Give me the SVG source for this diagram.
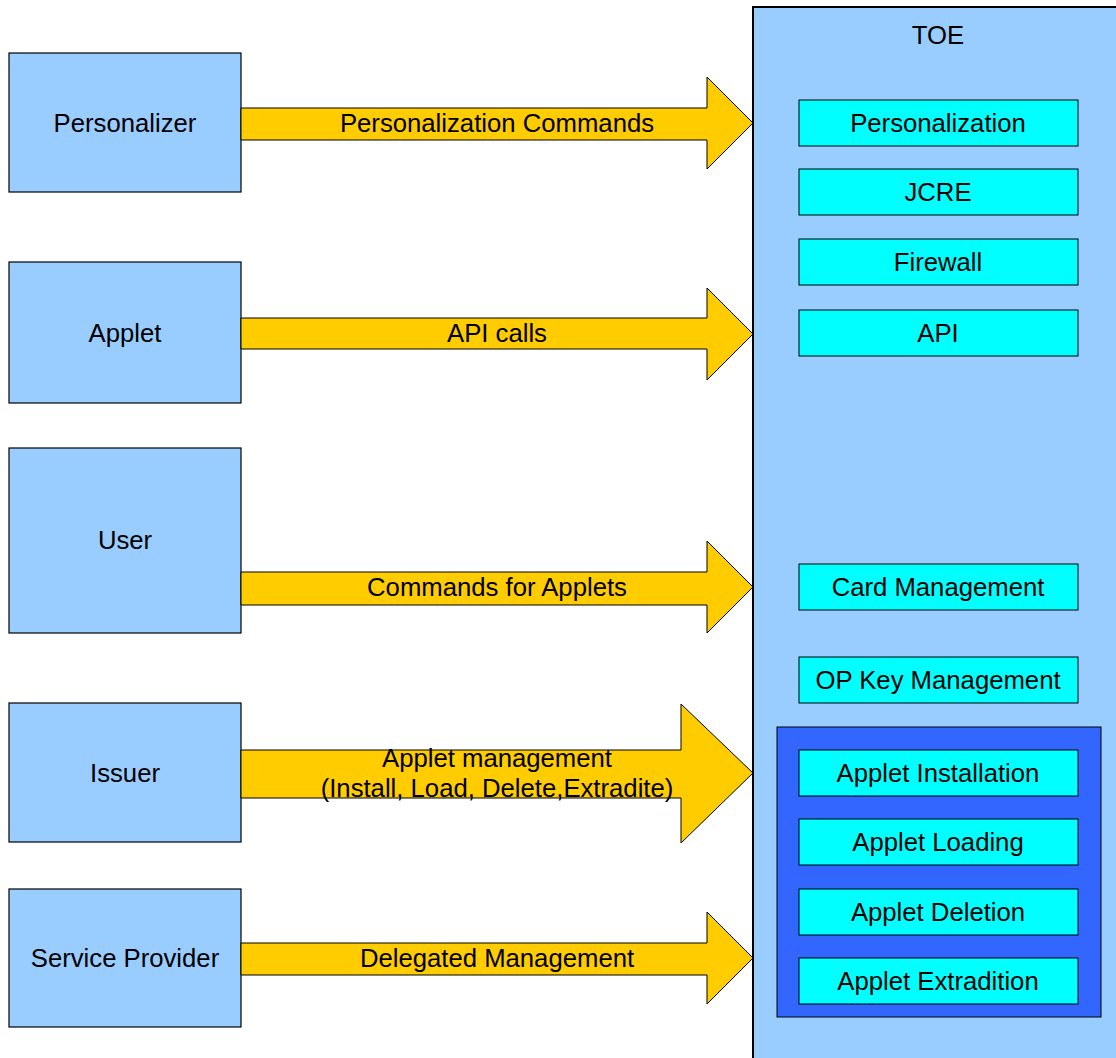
<svg xmlns="http://www.w3.org/2000/svg" width="1116" height="1058" viewBox="0 0 1116 1058">
<style>
text{font-family:"Liberation Sans",Arial,sans-serif;font-size:25.7px;fill:#000;text-anchor:middle;dominant-baseline:central}
.actor{fill:#99ccff;stroke:#000;stroke-width:1.2}
.inner{fill:#00ffff;stroke:#000;stroke-width:1}
.arrow{fill:#ffcc00;stroke:#000;stroke-width:1}
</style>
<rect width="1116" height="1058" fill="#fff"/>
<g id="toe">
<rect x="753" y="7" width="380" height="1070" fill="#99ccff" stroke="#000" stroke-width="2"/>
<text x="938" y="35">TOE</text>
</g>
<g id="applet-mgmt-group">
<rect x="777" y="727" width="324" height="290" fill="#3366ff" stroke="#000" stroke-width="1"/>
</g>
<g id="personalizer"><rect class="actor" x="9" y="53" width="232" height="139"/><text x="125" y="123">Personalizer</text></g>
<g id="applet"><rect class="actor" x="9" y="262" width="232" height="141"/><text x="125" y="333">Applet</text></g>
<g id="user"><rect class="actor" x="9" y="448" width="232" height="185"/><text x="125" y="540">User</text></g>
<g id="issuer"><rect class="actor" x="9" y="703" width="232" height="139"/><text x="125" y="773">Issuer</text></g>
<g id="service-provider"><rect class="actor" x="9" y="889" width="232" height="138"/><text x="125" y="958">Service Provider</text></g>
<g id="personalization"><rect class="inner" x="799" y="100" width="279" height="46"/><text x="938" y="123">Personalization</text></g>
<g id="jcre"><rect class="inner" x="799" y="169" width="279" height="46"/><text x="938" y="192">JCRE</text></g>
<g id="firewall"><rect class="inner" x="799" y="239" width="279" height="46"/><text x="938" y="262">Firewall</text></g>
<g id="api"><rect class="inner" x="799" y="310" width="279" height="46"/><text x="938" y="333">API</text></g>
<g id="card-management"><rect class="inner" x="799" y="564" width="279" height="46"/><text x="938" y="587">Card Management</text></g>
<g id="op-key-management"><rect class="inner" x="799" y="657" width="279" height="46" stroke-width="2"/><text x="938" y="680">OP Key Management</text></g>
<g id="applet-installation"><rect class="inner" x="799" y="750" width="279" height="46"/><text x="938" y="773">Applet Installation</text></g>
<g id="applet-loading"><rect class="inner" x="799" y="819" width="279" height="46"/><text x="938" y="842">Applet Loading</text></g>
<g id="applet-deletion"><rect class="inner" x="799" y="889" width="279" height="46"/><text x="938" y="912">Applet Deletion</text></g>
<g id="applet-extradition"><rect class="inner" x="799" y="958" width="279" height="46"/><text x="938" y="981">Applet Extradition</text></g>
<g id="connectors">
<polygon class="arrow" points="241,108 707,108 707,77 753,123 707,169 707,140 241,140"/>
<text x="497" y="123">Personalization Commands</text>
<polygon class="arrow" points="241,318 707,318 707,288 753,334 707,380 707,349 241,349"/>
<text x="497" y="333">API calls</text>
<polygon class="arrow" points="241,572 707,572 707,541 753,587 707,633 707,605 241,605"/>
<text x="497" y="587">Commands for Applets</text>
<polygon class="arrow" points="241,750 681,750 681,704 753,773 681,843 681,798 241,798"/>
<text x="497" y="758">Applet management</text>
<text x="497" y="788">(Install, Load, Delete,Extradite)</text>
<polygon class="arrow" points="241,943 707,943 707,912 753,958 707,1004 707,975 241,975"/>
<text x="497" y="958">Delegated Management</text>
</g>
</svg>
